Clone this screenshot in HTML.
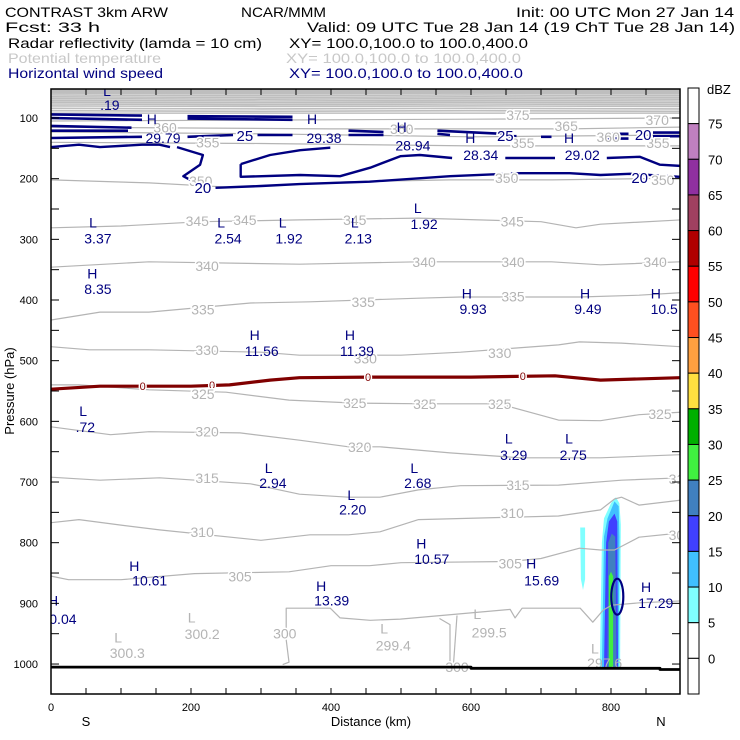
<!DOCTYPE html>
<html><head><meta charset="utf-8"><style>
html,body{margin:0;padding:0;background:#fff;}
svg{display:block;font-family:"Liberation Sans",sans-serif;}
</style></head><body>
<svg id="chart" width="740" height="740" viewBox="0 0 740 740" xmlns="http://www.w3.org/2000/svg">
<g font-size="14">
<text x="5" y="17" textLength="163" lengthAdjust="spacingAndGlyphs">CONTRAST  3km ARW</text>
<text x="241" y="17" textLength="85" lengthAdjust="spacingAndGlyphs">NCAR/MMM</text>
<text x="516" y="17" textLength="218" lengthAdjust="spacingAndGlyphs">Init: 00 UTC Mon 27 Jan 14</text>
<text x="5" y="32" textLength="95" lengthAdjust="spacingAndGlyphs">Fcst:    33 h</text>
<text x="307" y="32" textLength="428" lengthAdjust="spacingAndGlyphs">Valid: 09 UTC Tue 28 Jan 14 (19 ChT Tue 28 Jan 14)</text>
<text x="8" y="48" textLength="254" lengthAdjust="spacingAndGlyphs">Radar reflectivity (lamda = 10 cm)</text>
<text x="289" y="48" textLength="239" lengthAdjust="spacingAndGlyphs">XY= 100.0,100.0 to 100.0,400.0</text>
<text x="8" y="63" fill="#c8c8c8" textLength="153" lengthAdjust="spacingAndGlyphs">Potential temperature</text>
<text x="286" y="63" fill="#c8c8c8" textLength="235" lengthAdjust="spacingAndGlyphs">XY= 100.0,100.0 to 100.0,400.0</text>
<text x="8" y="78" fill="#000080" textLength="155" lengthAdjust="spacingAndGlyphs">Horizontal wind speed</text>
<text x="289" y="78" fill="#000080" textLength="234" lengthAdjust="spacingAndGlyphs">XY= 100.0,100.0 to 100.0,400.0</text>
</g>
<defs><clipPath id="plotclip"><rect x="51" y="89" width="629" height="605"/></clipPath></defs>
<g id="plot" clip-path="url(#plotclip)"></g>
<g id="axes"></g>
<g id="cbar"></g>
</svg>
<script>
// ---- data (distance km, pressure hPa) ----
const xTicksLabeled=[0,200,400,600,800];
const yTickLabels=[100,200,300,400,500,600,700,800,900,1000];
const thetaTopLevels=[53,56,59,62,65,68,71,74,77,80,84,88];
const theta375=[[0,92],[400,92],[700,92],[899,92]];
const theta370=[[0,105],[600,102],[899,100]];
const theta365=[[0,115],[400,118],[740,118],[899,115]];
const theta360=[[0,123],[300,126],[600,131],[899,128]];
const theta355=[[0,140],[300,142],[600,146],[899,146]];
const theta350=[[0,202],[140,207],[255,214],[425,205],[570,202],[715,202],[899,199]];
const theta345=[[0,281],[100,278],[215,271],[355,268],[525,265],[700,271],[750,281],[785,275],[899,268]];
const theta340=[[0,346],[140,337],[355,341],[525,337],[715,337],[785,342],[899,337]];
const theta335=[[0,433],[70,420],[140,420],[285,405],[370,403],[525,397],[585,395],[755,395],[840,392],[899,388]];
const theta330=[[0,477],[55,482],[140,482],[300,486],[355,491],[500,491],[585,486],[725,474],[755,469],[815,471],[899,477]];
const theta325=[[0,540],[40,540],[140,548],[250,552],[340,565],[435,570],[535,571],[640,571],[725,598],[785,599],[840,589],[899,585]];
const theta320=[[0,609],[85,622],[140,617],[270,619],[355,631],[425,642],[470,642],[570,652],[670,660],[785,660],[899,655]];
const theta315=[[0,692],[70,697],[155,693],[285,703],[355,720],[425,725],[470,725],[525,713],[585,706],[725,705],[815,697],[899,693]];
const theta310=[[0,767],[40,762],[100,771],[155,779],[300,796],[370,787],[425,787],[470,782],[525,762],[725,756],[785,746],[805,728],[815,725],[840,738],[899,730]];
const theta305=[[0,855],[25,861],[100,861],[205,851],[340,848],[400,838],[455,838],[500,833],[655,831],[700,826],[755,809],[785,812],[805,812],[840,791],[899,784]];
const theta300=[[331,1001],[340,997],[336,960],[336,908],[399,908],[413,924],[456,928],[499,926],[656,910],[663,924],[673,908],[756,908],[774,931],[789,911],[801,903],[841,899],[899,896]];
const theta300b=[[555,925],[570,935],[570,1000]];
const theta300c=[[580,920],[575,1000]];
const thetaLabels=[["360",163,116],["355",224,140],["360",501,118],["375",667,95],["365",736,113],["360",796,131],["370",866,103],["355",674,141],["355",867,141],["350",214,204],["350",651,199],["350",874,202],["345",209,270],["345",277,268],["345",434,268],["345",659,271],["340",223,344],["340",533,337],["340",660,337],["340",863,337],["335",217,416],["335",446,403],["335",660,394],["330",223,482],["330",449,496],["330",641,487],["325",217,555],["325",434,570],["325",534,571],["325",641,571],["325",870,588],["320",223,617],["320",441,642],["315",223,693],["315",667,705],["315",899,695],["310",216,782],["310",659,751],["305",270,856],["305",656,834],["305",899,787],["300",334,950],["300",580,1005]];
const grayHL=[["L","300.3",96,109,955,980],["L","300.2",201,216,922,949],["L","299.4",476,489,940,968],["L","299.5",609,626,916,946],["L","297.6",777,791,973,997]];
const windUpper=[[[0,94],[130,96]],[[0,100],[130,103]],[[0,113],[115,116]],[[0,121],[110,121]],[[0,133],[130,131]],[[195,97],[345,98]],[[195,101],[345,103]],[[195,131],[260,128]],[[295,128],[345,128]],[[425,121],[475,123]],[[425,128],[475,128]],[[552,121],[645,126]],[[552,126],[570,128]],[[650,130],[665,130]],[[700,131],[715,131]],[[795,126],[825,126]],[[795,134],[825,134]],[[860,124],[899,124]],[[860,130],[899,130]]];
const wind20a=[[0,148],[40,144],[70,148],[130,144],[155,144],[170,148]];
const wind20b=[[180,148],[217,161],[213,177],[189,196],[199,202]];
const wind20c=[[235,215],[300,212],[355,209],[455,205],[570,196],[670,191],[741,191],[785,194],[827,192],[899,197]];
const wind20d=[[271,176],[313,161],[356,153],[399,149]];
const wind20e=[[271,176],[271,197],[356,194],[413,196],[456,182],[499,163],[527,161],[573,166]];
const wind20f=[[649,166],[720,166]];
const wind20g=[[794,166],[841,164],[870,177],[899,179]];
const windLabels=[["25",277,128],["25",649,128],["20",217,214],["20",841,197],["20",846,126]];
const windHL=[["L",".19",80,84,54,77],["H","29.79",144,160,100,131],["H","29.38",373,390,100,131],["H","28.94",501,517,113,144],["H","28.34",599,614,131,159],["H","29.02",740,759,131,159],
["L","3.37",60,67,271,297],["L","2.54",243,253,271,297],["L","1.92",331,340,271,297],["L","2.13",434,439,271,297],["L","1.92",524,533,247,273],
["H","8.35",59,67,355,380],["H","9.93",594,603,388,413],["H","9.49",763,767,388,413],["H","10.5",864,876,388,413],["H","11.56",291,301,456,482],["H","11.39",427,437,456,482],
["L",".72",46,49,581,608],["L","3.29",654,661,627,654],["L","2.75",740,746,627,654],["L","2.94",311,317,675,700],["L","2.68",519,524,675,700],["L","2.20",429,431,720,744],
["H","10.57",529,544,800,825],["H","15.69",686,701,833,861],["H","17.29",850,864,871,898],["H","10.61",119,141,837,861],["H","13.39",386,401,870,894],["H","0.04",3,17,894,924]];
const freezing=[[0,547],[70,542],[140,542],[200,542],[255,540],[313,532],[355,528],[455,527],[600,527],[720,525],[785,532],[899,528]];
const freezeLabels=[[131,542],[230,540],[453,527],[674,525]];
const surface=[[0,1005],[600,1005],[600,1007],[870,1007],[870,1009],[899,1009]];
const reflCyan=[[784,1005],[787,800],[790,760],[800,735],[807,725],[812,735],[814,770],[813,1005]];
const reflLtBlue=[[787,1005],[790,790],[795,760],[805,732],[811,740],[812,790],[811,1005]];
const reflBlue=[[790,1005],[793,800],[797,765],[805,752],[809,765],[810,1005]];
const reflSteel=[[795,1005],[796,800],[801,785],[806,790],[808,1005]];
const reflGreen=[[797,1005],[797,855],[800,848],[803,855],[803,1005]];
const reflStreak=[[756,775],[763,775],[763,860],[760,878],[757,860]];
const ellipseC=[809,889];
const cbarLabels=[75,70,65,60,55,50,45,40,35,30,25,20,15,10,5,0];
const cbarColors=["#ffffff","#c080c0","#9030a0","#a04060","#b00000","#ff0000","#ff5020","#ffa040","#ffe040","#00b000","#40f040","#4080c0","#4040ff","#40c0ff","#80ffff","#ffffff","#ffffff"];
// ---- scales ----
const X=km=>51+0.7*km;
const Y=p=>118+(p-100)*0.6067;
const NS="http://www.w3.org/2000/svg";
const plot=document.getElementById('plot'),axes=document.getElementById('axes'),cbar=document.getElementById('cbar');
function mk(tag,parent,attrs){const e=document.createElementNS(NS,tag);for(const k in attrs)e.setAttribute(k,attrs[k]);parent.appendChild(e);return e;}
function pts(a){return a.map(p=>X(p[0]).toFixed(1)+','+Y(p[1]).toFixed(1)).join(' ');}
function line(a,color,w,name){const e=mk('polyline',plot,{points:pts(a),fill:'none',stroke:color,'stroke-width':w,'stroke-linejoin':'round'});

return e;}
function poly(a,color,name){const e=mk('polygon',plot,{points:pts(a),fill:color});

}
function txt(par,s,x,y,color,size,name,anchor){const e=mk('text',par,{x:x,y:y,fill:color,'font-size':size,'text-anchor':anchor||'middle'});e.textContent=s;

return e;}
const band=mk('rect',plot,{x:51,y:89,width:629,height:Y(60)-89,fill:'#bebebe'});


thetaTopLevels.forEach(p=>line([[0,p],[300,p+1],[600,p],[899,p+1]],'#bebebe',1.6,'theta-contour-upper'));
poly(reflStreak,'#80ffff','reflectivity-streak');
poly(reflCyan,'#80ffff','reflectivity-5-10');
poly(reflLtBlue,'#40c0ff','reflectivity-10-15');
poly(reflBlue,'#4040ff','reflectivity-15-20');
poly(reflSteel,'#4080c0','reflectivity-20-25');
poly(reflGreen,'#40f040','reflectivity-25-30');
[theta375,theta370,theta365,theta360,theta355,theta350,theta345,theta340,theta335,theta330,theta325,theta320,theta315,theta310,theta305,theta300,theta300b,theta300c].forEach(a=>line(a,'#b4b4b4',1.2,'theta-contour'));
line(freezing,'#800000',3.2,'freezing-level-line');
freezeLabels.forEach(f=>{const t=txt(plot,'0',X(f[0]),Y(f[1])+4,'#800000',11,'freezing-label');t.setAttribute('stroke','#fff');t.setAttribute('stroke-width','3');t.setAttribute('paint-order','stroke');});
windUpper.forEach(a=>line(a,'#000080',2.6,'wind-contour-25'));
[wind20a,wind20b,wind20c,wind20d,wind20e,wind20f,wind20g].forEach(a=>line(a,'#000080',2.4,'wind-contour-20'));
thetaLabels.forEach(l=>{const t=txt(plot,l[0],X(l[1]),Y(l[2])+5,'#b4b4b4',14,'theta-label');t.setAttribute('stroke','#fff');t.setAttribute('stroke-width','3');t.setAttribute('paint-order','stroke');});
windLabels.forEach(l=>{const t=txt(plot,l[0],X(l[1]),Y(l[2])+6,'#000080',15,'wind-label');t.setAttribute('stroke','#fff');t.setAttribute('stroke-width','3');t.setAttribute('paint-order','stroke');});
grayHL.forEach(l=>{txt(plot,l[0],X(l[2]),Y(l[4])+6,'#b4b4b4',14,'theta-extremum-letter');txt(plot,l[1],X(l[3]),Y(l[5])+6,'#b4b4b4',14,'theta-extremum-value');});
windHL.forEach(l=>{txt(plot,l[0],X(l[2]),Y(l[4])+6,'#000080',14,'wind-extremum-letter');txt(plot,l[1],X(l[3]),Y(l[5])+6,'#000080',14,'wind-extremum-value');});
const ell=mk('ellipse',plot,{cx:X(ellipseC[0]),cy:Y(ellipseC[1]),rx:6,ry:18,fill:'none',stroke:'#000080','stroke-width':2.2});


line(surface,'#000',2.8,'ground-surface');
const frame=mk('rect',axes,{x:51,y:89,width:629,height:605,fill:'none',stroke:'#000','stroke-width':1.5});


for(let k=0;k<=899;k+=50){const x=X(k);
const t1=mk('line',axes,{x1:x,y1:89,x2:x,y2:95,stroke:'#000'});
const t2=mk('line',axes,{x1:x,y1:694,x2:x,y2:688,stroke:'#000'});}
xTicksLabeled.forEach(k=>txt(axes,String(k),X(k),711,'#000',11,'x-tick-label'));
for(let p=100;p<=1050;p+=50){const y=Y(p);if(y<89||y>694)continue;
const t1=mk('line',axes,{x1:51,y1:y,x2:59,y2:y,stroke:'#000'});
const t2=mk('line',axes,{x1:680,y1:y,x2:672,y2:y,stroke:'#000'});}
yTickLabels.forEach(p=>txt(axes,String(p),38,Y(p)+4,'#000',11,'y-tick-label','end'));
txt(axes,'S',86,726,'#000',13,'south-label');
txt(axes,'Distance (km)',371,726,'#000',13,'x-axis-title');
txt(axes,'N',661,726,'#000',13,'north-label');
const yt=txt(axes,'Pressure (hPa)',0,0,'#000',13,'y-axis-title');yt.setAttribute('transform','translate(14,391) rotate(-90)');
const h=(694-88)/cbarColors.length;
cbarColors.forEach((c,i)=>{const r=mk('rect',cbar,{x:688,y:88+i*h,width:11,height:h,fill:c,stroke:'#000','stroke-width':1});

});
cbarLabels.forEach((v,i)=>txt(cbar,String(v),708,88+(i+1)*h+5,'#000',13,'colorbar-label','start'));
txt(cbar,'dBZ',707,94,'#000',13,'colorbar-unit','start');
</script>
</body></html>
